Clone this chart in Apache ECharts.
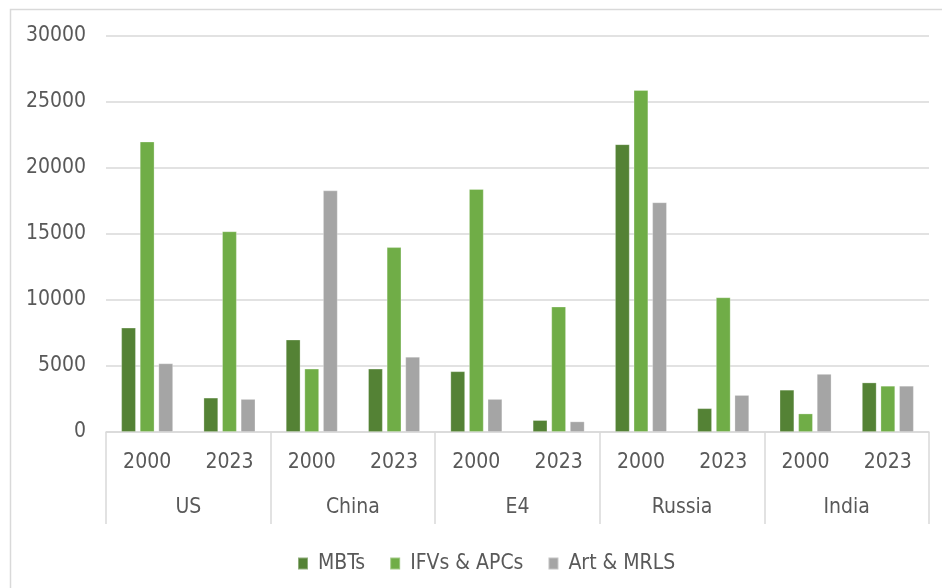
<!DOCTYPE html>
<html>
<head>
<meta charset="utf-8">
<script src="https://cdn.jsdelivr.net/npm/echarts@6/dist/echarts.min.js"></script>
<style>
html,body{margin:0;padding:0;background:#fff;}
#chart{width:942px;height:588px;}
</style>
</head>
<body>
<div id="chart"></div>
<script>
const countries = ['US', 'China', 'E4', 'Russia', 'India'];
const years = ['2000', '2023'];
const seriesNames = ['MBTs', 'IFVs & APCs', 'Art & MRLS'];
const mbts = [7900, 2600, 7000, 4800, 4600, 900, 21800, 1800, 3200, 3750];
const ifvs = [22000, 15200, 4800, 14000, 18400, 9500, 25900, 10200, 1400, 3500];
const arts = [5200, 2500, 18300, 5700, 2500, 800, 17400, 2800, 4400, 3500];
const yTicks = [0, 5000, 10000, 15000, 20000, 25000, 30000];

const colors = ['#548235', '#70AD47', '#A5A5A5'];
const FONT = '"DejaVu Sans Condensed", "Liberation Sans Narrow", "Open Sans", sans-serif';
const TXT = '#595959';
const LINE = '#D9D9D9';
const FS = 21;

const catKeys = [];
countries.forEach(c => years.forEach(y => catKeys.push(y + '|' + c)));

const chart = echarts.init(document.getElementById('chart'));
const mk = (name, data, color) => ({
  name: name, type: 'bar', xAxisIndex: 0, yAxisIndex: 0, data: data,
  barGap: '27%', barCategoryGap: '37%',
  itemStyle: { color: color, borderColor: 'rgba(255,255,255,0.35)', borderWidth: 0.8 },
  emphasis: { disabled: true }
});

chart.setOption({
  animation: false,
  backgroundColor: '#fff',
  textStyle: { fontFamily: FONT },
  graphic: [{
    type: 'rect', left: 8, top: 7, silent: true,
    shape: { x: 0, y: 0, width: 960, height: 600 },
    style: { fill: 'none', stroke: LINE, lineWidth: 1.5 }
  }],
  grid: { left: 106, right: 13, top: 36, bottom: 156, containLabel: false },
  legend: {
    left: 292, top: 548, itemWidth: 10, itemHeight: 12, itemGap: 24,
    icon: 'rect',
    textStyle: { color: TXT, fontSize: FS, fontFamily: FONT, padding: [0, 0, 0, 5] },
    data: seriesNames
  },
  xAxis: [{
    type: 'category', gridIndex: 0, position: 'bottom', data: catKeys,
    axisTick: { show: false },
    axisLine: { show: true, lineStyle: { color: LINE, width: 1.5 } },
    axisLabel: { color: TXT, fontSize: FS, fontFamily: FONT, margin: 20, interval: 0,
      lineHeight: 21, formatter: v => v.split('|')[0] }
  }, {
    type: 'category', gridIndex: 0, position: 'bottom', data: countries, offset: 0,
    axisLine: { show: false },
    axisTick: { show: true, length: 92, interval: 0, lineStyle: { color: LINE, width: 1.5 } },
    axisLabel: { color: TXT, fontSize: FS, fontFamily: FONT, margin: 65, interval: 0, lineHeight: 21 },
    splitLine: { show: false }
  }],
  yAxis: {
    type: 'value', min: yTicks[0], max: yTicks[yTicks.length - 1], interval: yTicks[1] - yTicks[0],
    axisLine: { show: false }, axisTick: { show: false },
    axisLabel: { color: TXT, fontSize: FS, fontFamily: FONT, margin: 20, formatter: v => String(v) },
    splitLine: { lineStyle: { color: LINE, width: 1.5 } }
  },
  series: [
    mk(seriesNames[0], mbts, colors[0]),
    mk(seriesNames[1], ifvs, colors[1]),
    mk(seriesNames[2], arts, colors[2])
  ]
});
</script>
</body>
</html>
